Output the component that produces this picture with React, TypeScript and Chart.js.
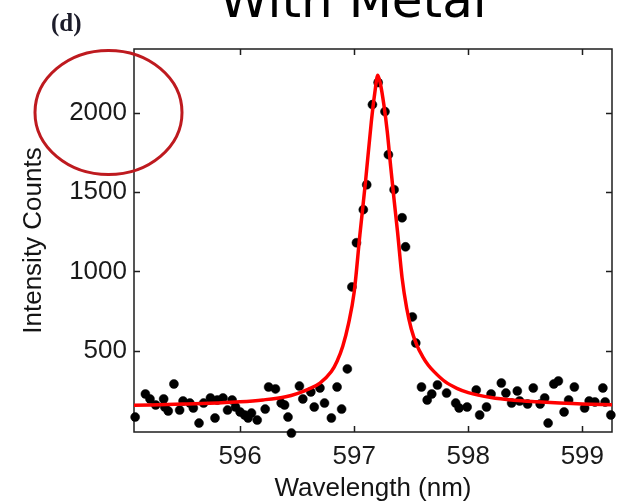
import { useEffect, useRef } from 'react';
import { Chart, registerables } from 'chart.js';

Chart.register(...registerables);

// Measured data points (wavelength in nm, intensity counts)
const wavelength = [
  595.08, 595.17, 595.21, 595.26, 595.33, 595.34, 595.37, 595.42, 595.47, 595.5,
  595.56, 595.59, 595.64, 595.68, 595.74, 595.78, 595.8, 595.85, 595.89, 595.93,
  595.96, 596.0, 596.04, 596.07, 596.1, 596.15, 596.22, 596.25, 596.31, 596.36,
  596.39, 596.42, 596.45, 596.52, 596.55, 596.62, 596.65, 596.7, 596.74, 596.8,
  596.85, 596.89, 596.94, 596.98, 597.02, 597.08, 597.11, 597.16, 597.21, 597.27,
  597.3, 597.35, 597.42, 597.45, 597.51, 597.54, 597.59, 597.64, 597.68, 597.73,
  597.81, 597.89, 597.92, 597.99, 598.07, 598.1, 598.16, 598.2, 598.29, 598.33,
  598.38, 598.43, 598.45, 598.52, 598.57, 598.63, 598.67, 598.7, 598.75, 598.79,
  598.84, 598.88, 598.93, 599.02, 599.06, 599.11, 599.18, 599.2, 599.25,
];
const counts = [
  84, 229, 198, 160, 198, 147, 122, 292, 128, 185,
  172, 141, 46, 172, 204, 78, 191, 204, 128, 191,
  147, 116, 97, 78, 109, 65, 134, 273, 261, 172,
  160, 84, -17, 279, 198, 242, 147, 267, 172, 78,
  273, 134, 387, 903, 1181, 1389, 1546, 2050, 2189, 2006,
  1735, 1515, 1338, 1155, 714, 550, 273, 191, 229, 286,
  235, 172, 141, 147, 254, 97, 147, 229, 298, 235,
  172, 248, 185, 166, 267, 166, 204, 46, 292, 311,
  116, 191, 273, 141, 185, 179, 267, 179, 97,
];

// Fitted curve
const fitWavelength = [
  595.07, 595.5, 595.8, 596.0, 596.2, 596.4, 596.5, 596.6, 596.7, 596.8,
  596.85, 596.9, 596.95, 597.0, 597.05, 597.1, 597.15, 597.18, 597.207, 597.23,
  597.26, 597.29, 597.32, 597.35, 597.38, 597.42, 597.46, 597.5, 597.55, 597.6,
  597.65, 597.7, 597.8, 597.9, 598.0, 598.2, 598.4, 598.6, 598.8, 599.0, 599.26,
];
const fitCounts = [
  158, 166, 173, 180, 192, 212, 232, 260, 298, 370,
  435, 530, 670, 870, 1230, 1570, 1940, 2120, 2235, 2180,
  2050, 1880, 1660, 1450, 1250, 960, 770, 640, 535, 465,
  410, 370, 305, 265, 238, 207, 190, 180, 172, 166, 162,
];

const xTicks = [596, 597, 598, 599];
const yTicks = [500, 1000, 1500, 2000];

const titleText = 'With Metal';
const panelLabel = '(d)';
const xTitle = 'Wavelength (nm)';
const yTitle = 'Intensity Counts';
const circledTick = 2000;

const SANS = '"Liberation Sans", Arial, Helvetica, sans-serif';

const decorPlugin = {
  id: 'decor',
  beforeDatasetsDraw(chart: any) {
    const { ctx, chartArea: a, scales } = chart;
    ctx.save();
    ctx.strokeStyle = '#1e1e1e';
    ctx.lineWidth = 1.5;
    ctx.strokeRect(a.left, a.top, a.right - a.left, a.bottom - a.top);
    const tl = 6;
    ctx.beginPath();
    for (const v of xTicks) {
      const px = Math.round(scales.x.getPixelForValue(v)) + 0.5;
      ctx.moveTo(px, a.bottom);
      ctx.lineTo(px, a.bottom - tl);
      ctx.moveTo(px, a.top);
      ctx.lineTo(px, a.top + tl);
    }
    for (const v of yTicks) {
      const py = Math.round(scales.y.getPixelForValue(v)) + 0.5;
      ctx.moveTo(a.left, py);
      ctx.lineTo(a.left + tl, py);
      ctx.moveTo(a.right, py);
      ctx.lineTo(a.right - tl, py);
    }
    ctx.stroke();
    ctx.restore();
  },
  afterDraw(chart: any) {
    const { ctx, chartArea: a, scales } = chart;
    ctx.save();
    // big title, cut off at the top
    ctx.fillStyle = '#000';
    ctx.font = '50px "DejaVu Sans", Verdana, sans-serif';
    ctx.textAlign = 'center';
    ctx.textBaseline = 'alphabetic';
    ctx.fillText(titleText, 353, 17);
    // panel label
    ctx.fillStyle = '#1c1c2a';
    ctx.font = 'bold 25px "Liberation Serif", "Times New Roman", serif';
    ctx.textAlign = 'left';
    ctx.fillText(panelLabel, 51, 31);
    // red ellipse annotation around the 2000 tick label
    const cy = scales.y.getPixelForValue(circledTick);
    ctx.strokeStyle = '#be1a1f';
    ctx.lineWidth = 3;
    ctx.beginPath();
    ctx.ellipse(a.left - 25.5, cy, 73.5, 62, 0, 0, Math.PI * 2);
    ctx.stroke();
    ctx.restore();
  },
};

export default function App() {
  const ref = useRef<HTMLCanvasElement>(null);
  useEffect(() => {
    const scatterData = wavelength.map((x, i) => ({ x, y: counts[i] }));
    const fitData = fitWavelength.map((x, i) => ({ x, y: fitCounts[i] }));
    const chart = new Chart(ref.current as HTMLCanvasElement, {
      type: 'scatter',
      data: {
        datasets: [
          {
            label: 'fit',
            data: fitData,
            showLine: true,
            borderColor: '#ff0000',
            backgroundColor: '#ff0000',
            borderWidth: 3.5,
            pointRadius: 0,
            cubicInterpolationMode: 'monotone',
          } as any,
          {
            label: 'data',
            data: scatterData,
            backgroundColor: '#000',
            borderColor: '#000',
            pointRadius: 4.5,
            pointBorderWidth: 0.5,
            clip: false,
          } as any,
        ],
      },
      options: {
        responsive: false,
        animation: false,
        events: [],
        layout: { padding: { left: 0, right: 4, top: 49, bottom: 0 } },
        plugins: {
          legend: { display: false },
          tooltip: { enabled: false },
          title: { display: false },
        },
        scales: {
          x: {
            type: 'linear',
            min: 595.07,
            max: 599.26,
            grid: { display: false, drawTicks: false },
            border: { display: false },
            afterBuildTicks: (s: any) => {
              s.ticks = xTicks.map((v) => ({ value: v }));
            },
            afterFit: (s: any) => {
              s.height = 72;
            },
            ticks: {
              autoSkip: false,
              maxRotation: 0,
              padding: 9,
              color: '#1a1a1a',
              font: { family: SANS, size: 26 },
              callback: (v: any) => String(v),
            },
            title: {
              display: true,
              text: xTitle,
              color: '#141414',
              font: { family: SANS, size: 26 },
              padding: { top: 0, bottom: 0 },
            },
          },
          y: {
            type: 'linear',
            min: -10,
            max: 2400,
            grid: { display: false, drawTicks: false },
            border: { display: false },
            afterBuildTicks: (s: any) => {
              s.ticks = yTicks.map((v) => ({ value: v }));
            },
            afterFit: (s: any) => {
              s.width = 134;
            },
            ticks: {
              autoSkip: false,
              padding: 7,
              color: '#1a1a1a',
              font: { family: SANS, size: 26 },
              callback: (v: any) => String(v),
            },
            title: {
              display: true,
              text: yTitle,
              color: '#141414',
              font: { family: SANS, size: 26 },
              padding: { top: 18, bottom: 0 },
            },
          },
        },
      },
      plugins: [decorPlugin],
    });
    return () => chart.destroy();
  }, []);
  return (
    <div style={{ position: 'absolute', left: 0, top: 0, width: 617, height: 504, background: '#fff' }}>
      <canvas ref={ref} width={617} height={504} style={{ display: 'block', width: 617, height: 504 }} />
    </div>
  );
}
